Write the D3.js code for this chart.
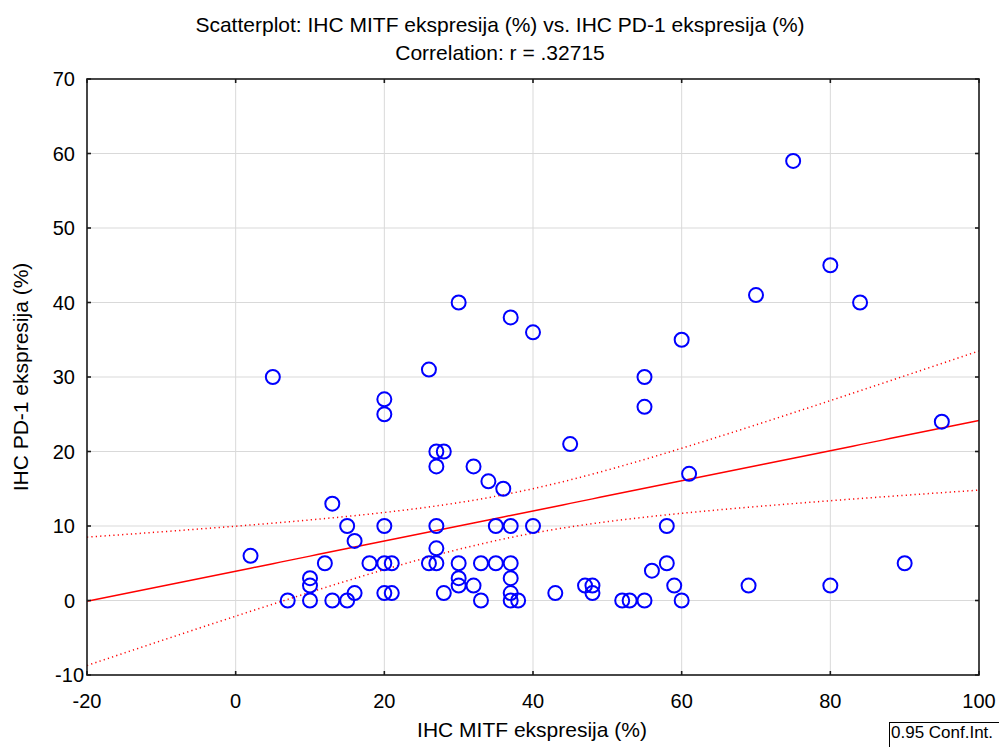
<!DOCTYPE html>
<html>
<head>
<meta charset="utf-8">
<script src="https://cdn.jsdelivr.net/npm/d3@7"></script>
<style>
  body { margin: 0; background: #fff; }
  svg { display: block; font-family: "Liberation Sans", Arial, sans-serif; }
</style>
</head>
<body>
<div id="chart"></div>
<script>
// MITF (x) vs PD-1 (y)
const mitf = [5, 75, 80, 84, 70, 60, 30, 37, 40, 26, 55, 55, 20, 20, 95, 45, 27, 28, 27, 32, 61, 34, 36, 13,
  15, 20, 27, 35, 37, 40, 58, 16, 2, 27,
  12, 18, 20, 21, 26, 27, 30, 33, 35, 37, 58, 90, 56,
  10, 10, 30, 30, 32, 37, 47, 48, 48, 59, 69, 80,
  16, 20, 21, 28, 37, 43,
  7, 10, 13, 15, 33, 37, 38, 52, 53, 55, 60];
const pd1 = [30, 59, 45, 40, 41, 35, 40, 38, 36, 31, 30, 26, 27, 25, 24, 21, 20, 20, 18, 18, 17, 16, 15, 13,
  10, 10, 10, 10, 10, 10, 10, 8, 6, 7,
  5, 5, 5, 5, 5, 5, 5, 5, 5, 5, 5, 5, 4,
  3, 2, 3, 2, 2, 3, 2, 2, 1, 2, 2, 2,
  1, 1, 1, 1, 1, 1,
  0, 0, 0, 0, 0, 0, 0, 0, 0, 0, 0];
const xTicks = [-20, 0, 20, 40, 60, 80, 100];
const yTicks = [-10, 0, 10, 20, 30, 40, 50, 60, 70];
const titleLines = ["Scatterplot: IHC MITF ekspresija (%) vs. IHC PD-1 ekspresija (%)", "Correlation: r = .32715"];

const W = 999, H = 747;
const m = { top: 79, right: 20, bottom: 72, left: 87 };
const w = W - m.left - m.right, h = H - m.top - m.bottom;

const svg = d3.select('#chart').append('svg').attr('width', W).attr('height', H);

const x = d3.scaleLinear().domain([-20, 100]).range([0, w]);
const y = d3.scaleLinear().domain([-10, 70]).range([h, 0]);

const g = svg.append('g').attr('transform', 'translate(' + m.left + ',' + m.top + ')');

// grid
g.append('g').selectAll('line').data(xTicks.slice(1, -1)).enter().append('line')
  .attr('x1', d => x(d)).attr('x2', d => x(d)).attr('y1', 0).attr('y2', h)
  .attr('stroke', '#d9d9d9').attr('stroke-width', 1);
g.append('g').selectAll('line').data(yTicks.slice(1, -1)).enter().append('line')
  .attr('y1', d => y(d)).attr('y2', d => y(d)).attr('x1', 0).attr('x2', w)
  .attr('stroke', '#d9d9d9').attr('stroke-width', 1);

// regression + 95% CI of the mean
const n = mitf.length;
const mx = d3.mean(mitf), my = d3.mean(pd1);
let sxx = 0, sxy = 0;
mitf.forEach((v, i) => { sxx += (v - mx) ** 2; sxy += (v - mx) * (pd1[i] - my); });
const b = sxy / sxx, a = my - b * mx;
let sse = 0;
mitf.forEach((v, i) => { sse += (pd1[i] - a - b * v) ** 2; });
const s = Math.sqrt(sse / (n - 2));
const t = 1.993;
const xs = d3.range(-20, 100.01, 1);
const fit = xs.map(v => [v, a + b * v]);
const band = sign => xs.map(v => [v, a + b * v + sign * t * s * Math.sqrt(1 / n + (v - mx) ** 2 / sxx)]);

const line = d3.line().x(d => x(d[0])).y(d => y(d[1]));
svg.append('defs').append('clipPath').attr('id', 'plotclip')
  .append('rect').attr('width', w).attr('height', h);
const lines = g.append('g').attr('clip-path', 'url(#plotclip)');
lines.append('path').attr('d', line(fit)).attr('fill', 'none').attr('stroke', '#ff0000').attr('stroke-width', 1.5);
[1, -1].forEach(sg => {
  lines.append('path').attr('d', line(band(sg))).attr('fill', 'none')
    .attr('stroke', '#ff0000').attr('stroke-width', 1.5).attr('stroke-dasharray', '1.2,3.2');
});

// points
g.append('g').selectAll('circle').data(mitf).enter().append('circle')
  .attr('cx', d => x(d)).attr('cy', (d, i) => y(pd1[i])).attr('r', 7)
  .attr('fill', 'none').attr('stroke', '#0000ff').attr('stroke-width', 2);

// frame with inward ticks
const tick = 4;
g.append('rect').attr('width', w).attr('height', h).attr('fill', 'none')
  .attr('stroke', '#1a1a1a').attr('stroke-width', 1.6);
const tk = g.append('g').attr('stroke', '#1a1a1a').attr('stroke-width', 1.6);
xTicks.forEach(d => {
  tk.append('line').attr('x1', x(d)).attr('x2', x(d)).attr('y1', 0).attr('y2', tick);
  tk.append('line').attr('x1', x(d)).attr('x2', x(d)).attr('y1', h).attr('y2', h - tick);
});
yTicks.forEach(d => {
  tk.append('line').attr('y1', y(d)).attr('y2', y(d)).attr('x1', 0).attr('x2', tick);
  tk.append('line').attr('y1', y(d)).attr('y2', y(d)).attr('x1', w).attr('x2', w - tick);
});

// tick labels
g.append('g').selectAll('text').data(xTicks).enter().append('text')
  .attr('x', d => x(d)).attr('y', h + 33).attr('text-anchor', 'middle')
  .attr('font-size', 20).attr('fill', '#000').text(d => d);
g.append('g').selectAll('text').data(yTicks).enter().append('text')
  .attr('x', d => d === -10 ? -3 : -12).attr('y', d => y(d) + 7).attr('text-anchor', 'end')
  .attr('font-size', 20).attr('fill', '#000').text(d => d);

// titles
svg.selectAll('.title').data(titleLines).enter().append('text').attr('class', 'title')
  .attr('x', 500).attr('y', (d, i) => 32 + i * 28).attr('text-anchor', 'middle')
  .attr('font-size', 21).attr('fill', '#000').text(d => d);
svg.append('text').attr('x', 532).attr('y', 737).attr('text-anchor', 'middle')
  .attr('font-size', 21).attr('fill', '#000').text('IHC MITF ekspresija (%)');
svg.append('text').attr('transform', 'translate(28,' + (m.top + h / 2) + ') rotate(-90)')
  .attr('text-anchor', 'middle').attr('font-size', 21).attr('fill', '#000').text('IHC PD-1 ekspresija (%)');

// legend
svg.append('rect').attr('x', 889.5).attr('y', 722.5).attr('width', 115).attr('height', 30)
  .attr('fill', '#fff').attr('stroke', '#000').attr('stroke-width', 1);
svg.append('text').attr('x', 891).attr('y', 738).attr('font-size', 17).attr('fill', '#000').text('0.95 Conf.Int.');
</script>
</body>
</html>
